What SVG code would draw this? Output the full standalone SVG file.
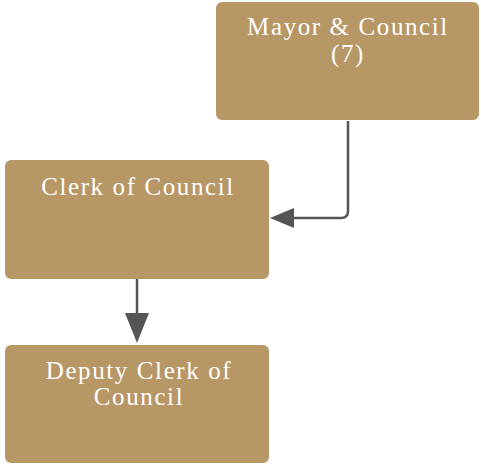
<svg xmlns="http://www.w3.org/2000/svg" width="481" height="464" viewBox="0 0 481 464">
<defs>
<style>
.box{fill:#b89766;}
.t{fill:#ffffff;font-family:"Liberation Serif","DejaVu Serif",serif;font-size:25px;text-anchor:middle;letter-spacing:1.6px;}
.c{fill:none;stroke:#555555;stroke-width:2.5;}
</style>
</defs>
<rect width="481" height="464" fill="#ffffff"/>
<g id="connectors">
<path class="c" d="M348,121 V211 Q348,218 341,218 H293"/>
<path d="M270,218 L294,208 L294,228 Z" fill="#555555"/>
<path class="c" d="M137,279 V316"/>
<path d="M137,343 L125,313 L149,313 Z" fill="#555555"/>
</g>
<g id="mayor">
<rect class="box" x="216" y="2" width="263" height="118" rx="6"/>
<text class="t" x="348" y="35">Mayor &amp; Council</text>
<text class="t" x="348" y="62">(7)</text>
</g>
<g id="clerk">
<rect class="box" x="5" y="160" width="264" height="119" rx="6"/>
<text class="t" x="138" y="195">Clerk of Council</text>
</g>
<g id="deputy">
<rect class="box" x="5" y="345" width="264" height="118" rx="6"/>
<text class="t" x="139" y="379">Deputy Clerk of</text>
<text class="t" x="139" y="405">Council</text>
</g>
</svg>
